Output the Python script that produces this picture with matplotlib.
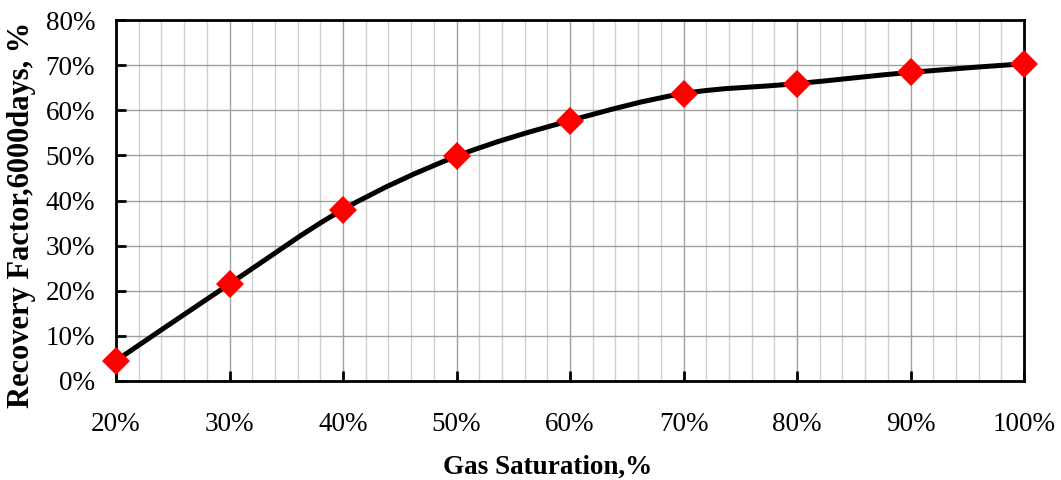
import matplotlib
matplotlib.use("Agg")
import matplotlib.pyplot as plt
from matplotlib.path import Path
from matplotlib.patches import PathPatch
from matplotlib.ticker import MultipleLocator, FuncFormatter
import numpy as np

gas_saturation = [20, 30, 40, 50, 60, 70, 80, 90, 100]
recovery_factor = [4.5, 21.5, 38.0, 49.8, 57.7, 63.7, 65.9, 68.4, 70.3]

plt.rcParams['font.family'] = ['Liberation Serif', 'DejaVu Serif']

fig = plt.figure(figsize=(10.61, 4.8), dpi=100)
ax = fig.add_axes([116/1061, 1 - 381/480, (1024 - 116)/1061, (381 - 20)/480])

# smoothed line (Catmull-Rom as cubic Bezier, like Excel smoothing)
x = np.array(gas_saturation, float)
y = np.array(recovery_factor, float)
verts = [(x[0], y[0])]
codes = [Path.MOVETO]
n = len(x)
for i in range(n - 1):
    p0 = (x[i - 1], y[i - 1]) if i > 0 else (x[i], y[i])
    p1 = (x[i], y[i])
    p2 = (x[i + 1], y[i + 1])
    p3 = (x[i + 2], y[i + 2]) if i + 2 < n else (x[i + 1], y[i + 1])
    t = 1 / 6
    c1 = (p1[0] + (p2[0] - p0[0]) * t, p1[1] + (p2[1] - p0[1]) * t)
    c2 = (p2[0] - (p3[0] - p1[0]) * t, p2[1] - (p3[1] - p1[1]) * t)
    verts += [c1, c2, p2]
    codes += [Path.CURVE4] * 3
ax.add_patch(PathPatch(Path(verts, codes), facecolor='none', edgecolor='black',
                       lw=3.6, zorder=3, clip_on=False, capstyle='round'))

ax.plot(gas_saturation, recovery_factor, linestyle='none', marker='D',
        markersize=14, color='#ff0000', markeredgewidth=0, zorder=4, clip_on=False)

ax.set_xlim(20, 100)
ax.set_ylim(0, 80)
ax.xaxis.set_major_locator(MultipleLocator(10))
ax.xaxis.set_minor_locator(MultipleLocator(2))
ax.yaxis.set_major_locator(MultipleLocator(10))
pct = FuncFormatter(lambda v, p: f"{v:.0f}%")
ax.xaxis.set_major_formatter(pct)
ax.yaxis.set_major_formatter(pct)

ax.grid(True, which='major', color='#a0a0a0', lw=1.0, zorder=0)
ax.grid(True, which='minor', axis='x', color='#d0d0d0', lw=1.0, zorder=0)
ax.set_axisbelow(True)

ax.tick_params(axis='both', which='major', direction='in', length=7, width=2,
               labelsize=19.5, colors='black')
ax.tick_params(axis='x', which='major', pad=22)
ax.tick_params(axis='y', which='major', pad=15)
ax.tick_params(axis='x', which='minor', length=0)
ax.tick_params(top=False, right=False)

for s in ax.spines.values():
    s.set_linewidth(2)
    s.set_color('black')

ax.set_xlabel('Gas Saturation,%', fontsize=19.5, fontweight='bold')
ax.set_ylabel('Recovery Factor,6000days, %', fontsize=22, fontweight='bold')
ax.xaxis.set_label_coords((548 - 116) / (1024 - 116), -(467 - 381) / (381 - 20))
ax.yaxis.set_label_coords(-(116 - 22) / (1024 - 116), (381 - 215) / (381 - 20))
ax.xaxis.label.set_va('center')
ax.yaxis.label.set_va('center')

fig.savefig('out.png', dpi=100)
